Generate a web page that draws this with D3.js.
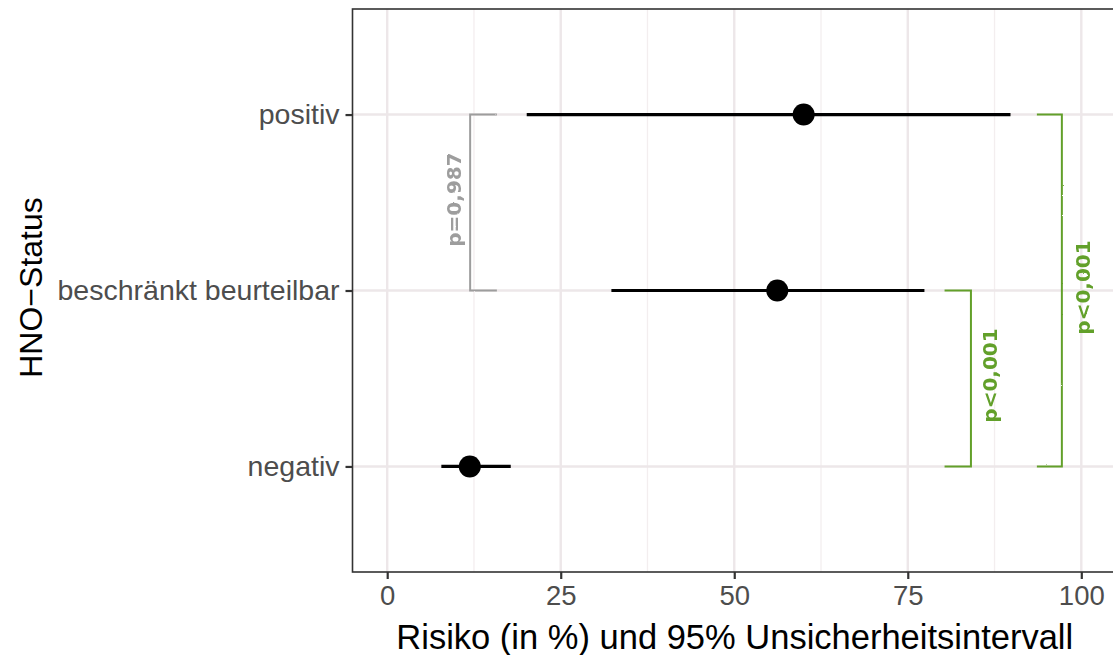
<!DOCTYPE html>
<html>
<head>
<meta charset="utf-8">
<script src="https://cdn.jsdelivr.net/npm/d3@7"></script>
<style>
  body { margin: 0; background: #fff; }
  svg { display: block; }
  text { font-family: "Liberation Sans", Arial, sans-serif; }
</style>
</head>
<body>
<div id="chart"></div>
<script>
// data
const categories = ["positiv", "beschränkt beurteilbar", "negativ"];
const risk  = [60, 56.2, 11.9];
const lower = [20.1, 32.3, 7.8];
const upper = [89.8, 77.4, 17.8];
const xTicks = [0, 25, 50, 75, 100];

// significance brackets
const bracketFrom  = ["positiv", "beschränkt beurteilbar", "positiv"];
const bracketTo    = ["beschränkt beurteilbar", "negativ", "negativ"];
const bracketX     = [11.95, 84.1, 97.2];
const bracketTip   = [15.8, 80.3, 93.6];
const bracketLabel = ["p=0,987", "p<0,001", "p<0,001"];
const labelX       = [10.6, 87.9, 101.2];
const bracketCol   = ["#9d9d9d", "#62a02a", "#62a02a"];

const W = 1113, H = 655;
const panel = {left: 352.5, top: 9, right: 1116, bottom: 572};

const svg = d3.select("#chart").append("svg")
  .attr("width", W).attr("height", H);

// slight hand-drawn wobble for the brackets
const defs = svg.append("defs");
const f = defs.append("filter").attr("id", "rough")
  .attr("x", "-5%").attr("y", "-5%").attr("width", "110%").attr("height", "110%");
f.append("feTurbulence").attr("type", "fractalNoise")
  .attr("baseFrequency", 0.9).attr("numOctaves", 2).attr("result", "noise");
f.append("feDisplacementMap").attr("in", "SourceGraphic").attr("in2", "noise")
  .attr("scale", 1.6).attr("xChannelSelector", "R").attr("yChannelSelector", "G");

const x = d3.scaleLinear().domain([-5, 105]).range([panel.left, panel.right]);
const y = d3.scalePoint().domain(categories)
  .range([panel.top, panel.bottom]).padding(0.6);

// grid
const minor = [12.5, 37.5, 62.5, 87.5];
svg.append("g").selectAll("line.minor").data(minor).join("line")
  .attr("x1", d => x(d)).attr("x2", d => x(d))
  .attr("y1", panel.top).attr("y2", panel.bottom)
  .attr("stroke", "#f3eeef").attr("stroke-width", 1.3);
svg.append("g").selectAll("line.major").data(xTicks).join("line")
  .attr("x1", d => x(d)).attr("x2", d => x(d))
  .attr("y1", panel.top).attr("y2", panel.bottom)
  .attr("stroke", "#ede7e9").attr("stroke-width", 2.4);
svg.append("g").selectAll("line.hmaj").data(categories).join("line")
  .attr("x1", panel.left).attr("x2", panel.right)
  .attr("y1", d => y(d)).attr("y2", d => y(d))
  .attr("stroke", "#ede7e9").attr("stroke-width", 2.4);

// error bars + points
const rows = categories.map((c, i) => ({c, r: risk[i], lo: lower[i], hi: upper[i]}));
svg.append("g").selectAll("line").data(rows).join("line")
  .attr("x1", d => x(d.lo)).attr("x2", d => x(d.hi))
  .attr("y1", d => y(d.c)).attr("y2", d => y(d.c))
  .attr("stroke", "#000").attr("stroke-width", 3.2);
svg.append("g").selectAll("circle").data(rows).join("circle")
  .attr("cx", d => x(d.r)).attr("cy", d => y(d.c))
  .attr("r", 11).attr("fill", "#000");

// brackets
const br = bracketLabel.map((l, i) => ({
  a: bracketFrom[i], b: bracketTo[i], x: bracketX[i], tip: bracketTip[i],
  label: l, lx: labelX[i], col: bracketCol[i]
}));
const bg = svg.append("g").attr("filter", "url(#rough)");
bg.selectAll("path").data(br).join("path")
  .attr("d", d => `M${x(d.tip)},${y(d.a)}H${x(d.x)}V${y(d.b)}H${x(d.tip)}`)
  .attr("fill", "none").attr("stroke", d => d.col).attr("stroke-width", 2);
bg.selectAll("text").data(br).join("text")
  .attr("transform", d => `translate(${x(d.lx)},${(y(d.a) + y(d.b)) / 2 - 3}) rotate(-90)`)
  .attr("text-anchor", "middle")
  .style("font-family", "'DejaVu Sans', sans-serif")
  .attr("font-weight", "bold")
  .attr("font-size", 20)
  .attr("fill", d => d.col)
  .text(d => d.label);

// panel border
svg.append("rect")
  .attr("x", panel.left).attr("y", panel.top)
  .attr("width", panel.right - panel.left).attr("height", panel.bottom - panel.top)
  .attr("fill", "none").attr("stroke", "#333").attr("stroke-width", 1.6);

// x axis
const xAxis = svg.append("g")
  .attr("transform", `translate(0,${panel.bottom})`)
  .call(d3.axisBottom(x).tickValues(xTicks).tickSize(7).tickPadding(6).tickFormat(d3.format("d")));
xAxis.select(".domain").remove();
xAxis.selectAll(".tick line").attr("stroke", "#333").attr("stroke-width", 2.2);
xAxis.selectAll(".tick text").attr("fill", "#4d4d4d").attr("font-size", 27.5)
  .style("font-family", "'Liberation Sans', Arial, sans-serif");

// y axis
const yAxis = svg.append("g")
  .attr("transform", `translate(${panel.left},0)`)
  .call(d3.axisLeft(y).tickSize(7).tickPadding(6));
yAxis.select(".domain").remove();
yAxis.selectAll(".tick line").attr("stroke", "#333").attr("stroke-width", 2.2);
yAxis.selectAll(".tick text").attr("fill", "#4d4d4d").attr("font-size", 28.5)
  .style("font-family", "'Liberation Sans', Arial, sans-serif");

// titles
svg.append("text")
  .attr("x", (panel.left + 1113) / 2 + 2).attr("y", 649)
  .attr("text-anchor", "middle").attr("font-size", 34.5).attr("fill", "#000")
  .text("Risiko (in %) und 95% Unsicherheitsintervall");
svg.append("text")
  .attr("transform", `translate(42,${(panel.top + panel.bottom) / 2 - 3}) rotate(-90)`)
  .attr("text-anchor", "middle").attr("font-size", 32).attr("fill", "#000")
  .text("HNO\u2212Status");
</script>
</body>
</html>
